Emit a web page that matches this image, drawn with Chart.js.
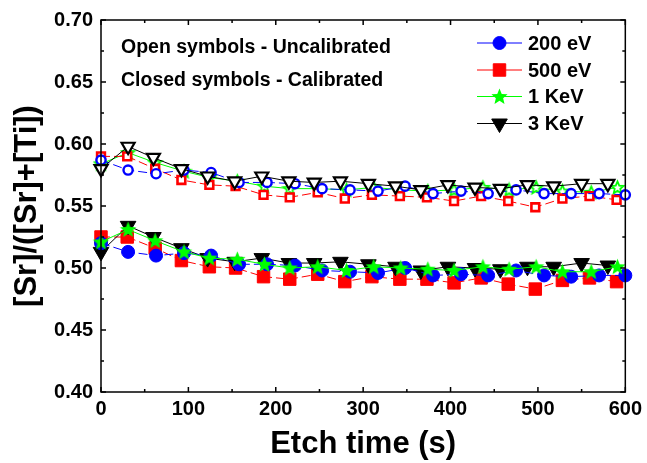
<!DOCTYPE html>
<html>
<head>
<meta charset="utf-8">
<script src="https://cdn.jsdelivr.net/npm/chart.js@4.4.0/dist/chart.umd.min.js"></script>
<style>
  body { margin: 0; background: #fff; }
</style>
</head>
<body>
<canvas id="chart" width="647" height="463"></canvas>
<script>
const seriesNames = ["200 eV", "500 eV", "1 KeV", "3 KeV"];
const seriesColors = ["#0000ff", "#ff0000", "#00ff00", "#000000"];

// etch times (s) for each energy
const time200 = [0, 31, 63, 95, 126, 158, 190, 222, 253, 285, 317, 348, 380, 412, 443, 475, 507, 538, 570, 600];
const time500 = [0, 30, 62, 92, 124, 154, 186, 216, 248, 279, 310, 342, 373, 404, 435, 466, 497, 528, 559, 590];
const time1k = [0, 31, 62, 95, 124, 156, 187, 216, 248, 281, 312, 343, 374, 404, 437, 467, 498, 528, 561, 591];
const time3k = [0, 31, 60, 92, 122, 153, 184, 215, 244, 274, 306, 337, 366, 397, 428, 457, 488, 518, 550, 580];

// open symbols - uncalibrated
const raw200 = [0.587, 0.579, 0.576, 0.579, 0.577, 0.569, 0.569, 0.568, 0.564, 0.563, 0.562, 0.566, 0.560, 0.562, 0.560, 0.563, 0.560, 0.560, 0.560, 0.559];
const raw500 = [0.590, 0.590, 0.580, 0.571, 0.567, 0.566, 0.559, 0.557, 0.561, 0.556, 0.559, 0.558, 0.557, 0.554, 0.558, 0.554, 0.549, 0.556, 0.558, 0.555];
const raw1k = [0.584, 0.593, 0.585, 0.578, 0.573, 0.570, 0.566, 0.564, 0.564, 0.563, 0.565, 0.563, 0.562, 0.563, 0.565, 0.563, 0.565, 0.562, 0.561, 0.565];
const raw3k = [0.580, 0.598, 0.589, 0.580, 0.574, 0.570, 0.574, 0.570, 0.569, 0.570, 0.568, 0.566, 0.563, 0.567, 0.565, 0.564, 0.567, 0.566, 0.568, 0.568];

// closed symbols - calibrated
const cal200 = [0.520, 0.513, 0.510, 0.512, 0.510, 0.503, 0.503, 0.502, 0.498, 0.497, 0.496, 0.500, 0.494, 0.495, 0.494, 0.498, 0.494, 0.493, 0.494, 0.494];
const cal500 = [0.525, 0.525, 0.516, 0.506, 0.501, 0.500, 0.493, 0.491, 0.495, 0.489, 0.493, 0.491, 0.491, 0.488, 0.492, 0.487, 0.483, 0.490, 0.492, 0.489];
const cal1k = [0.521, 0.531, 0.522, 0.513, 0.508, 0.507, 0.503, 0.500, 0.501, 0.498, 0.501, 0.500, 0.499, 0.498, 0.501, 0.499, 0.501, 0.497, 0.497, 0.501];
const cal3k = [0.513, 0.534, 0.525, 0.516, 0.508, 0.505, 0.508, 0.504, 0.504, 0.505, 0.503, 0.501, 0.498, 0.501, 0.500, 0.499, 0.501, 0.501, 0.504, 0.502];

const xTicks = [0, 100, 200, 300, 400, 500, 600];
const yTicks = [0.40, 0.45, 0.50, 0.55, 0.60, 0.65, 0.70];
const noteLines = ["Open symbols - Uncalibrated", "Closed symbols - Calibrated"];

const FONT = "'Liberation Sans', Arial, sans-serif";

function makeStar(fill, stroke, outer, lw) {
    const size = Math.ceil(outer * 2 + lw + 2);
    const c = document.createElement("canvas");
    c.width = size;
    c.height = size;
    const g = c.getContext("2d");
    const cx = size / 2, cy = size / 2 + 0.5, inner = outer * 0.45;
    g.beginPath();
    for (let i = 0; i < 10; i++) {
        const r = i % 2 ? inner : outer;
        const a = -Math.PI / 2 + i * Math.PI / 5;
        g.lineTo(cx + r * Math.cos(a), cy + r * Math.sin(a));
    }
    g.closePath();
    g.fillStyle = fill;
    g.fill();
    if (lw) {
        g.lineWidth = lw;
        g.strokeStyle = stroke;
        g.stroke();
    }
    return c;
}

const starClosed = makeStar("#00ff00", "#00ff00", 8.5, 0);
const starOpen = makeStar("#ffffff", "#00ff00", 6.5, 1.8);

const pts = (xs, ys) => xs.map((x, i) => ({ x: x, y: ys[i] }));

// marker settings per series: [open, closed]
const markers = [
    { open: { pointStyle: "circle", radius: 4.6, rotation: 0, borderWidth: 2.4 }, closed: { pointStyle: "circle", radius: 6.5, rotation: 0, borderWidth: 1 } },
    { open: { pointStyle: "rect", radius: 5.5, rotation: 0, borderWidth: 2.6 }, closed: { pointStyle: "rect", radius: 8.8, rotation: 0, borderWidth: 1 } },
    { open: { pointStyle: starOpen, radius: 7, rotation: 0, borderWidth: 0 }, closed: { pointStyle: starClosed, radius: 8, rotation: 0, borderWidth: 0 } },
    { open: { pointStyle: "triangle", radius: 7.5, rotation: 180, borderWidth: 2.2 }, closed: { pointStyle: "triangle", radius: 9, rotation: 180, borderWidth: 1 } }
];
const dashes = [[9, 4], [9, 4], [], []];
// lower order = drawn on top
const openOrder = [6, 7, 9, 5];
const closedOrder = [2, 4, 1, 3];

const timeSets = [time200, time500, time1k, time3k];
const rawSets = [raw200, raw500, raw1k, raw3k];
const calSets = [cal200, cal500, cal1k, cal3k];

function makeDataset(i, values, open) {
    const m = open ? markers[i].open : markers[i].closed;
    return {
        label: seriesNames[i] + (open ? " (uncalibrated)" : ""),
        data: pts(timeSets[i], values),
        borderColor: seriesColors[i],
        borderWidth: 1,
        borderDash: dashes[i],
        showLine: true,
        fill: false,
        pointStyle: m.pointStyle,
        pointRadius: m.radius,
        pointRotation: m.rotation,
        pointBorderWidth: m.borderWidth,
        pointBorderColor: seriesColors[i],
        pointBackgroundColor: open ? "#ffffff" : seriesColors[i],
        pointHoverRadius: m.radius,
        clip: false,
        order: open ? openOrder[i] : closedOrder[i]
    };
}

const datasets = [];
for (let i = 0; i < 4; i++) datasets.push(makeDataset(i, rawSets[i], true));
for (let i = 0; i < 4; i++) datasets.push(makeDataset(i, calSets[i], false));

// frame with inward ticks on all four sides
const frameTicks = {
    id: "frameTicks",
    afterDraw(chart) {
        const { ctx, chartArea: a, scales } = chart;
        const xs = scales.x, ys = scales.y;
        ctx.save();
        ctx.strokeStyle = "#000";
        ctx.lineWidth = 1.5;
        ctx.strokeRect(a.left, a.top, a.right - a.left, a.bottom - a.top);
        ctx.beginPath();
        for (let v = 0; v <= 600; v += 50) {
            const px = xs.getPixelForValue(v);
            const len = v % 100 === 0 ? 5 : 3;
            ctx.moveTo(px, a.bottom); ctx.lineTo(px, a.bottom - len);
            ctx.moveTo(px, a.top); ctx.lineTo(px, a.top + len);
        }
        for (let k = 0; k <= 12; k++) {
            const v = 0.40 + k * 0.025;
            const py = ys.getPixelForValue(v);
            const len = k % 2 === 0 ? 5 : 3;
            ctx.moveTo(a.left, py); ctx.lineTo(a.left + len, py);
            ctx.moveTo(a.right, py); ctx.lineTo(a.right - len, py);
        }
        ctx.stroke();
        ctx.restore();
    }
};

// notes and legend with line + marker
const notesLegend = {
    id: "notesLegend",
    afterDraw(chart) {
        const ctx = chart.ctx;
        ctx.save();
        ctx.fillStyle = "#000";
        ctx.textBaseline = "alphabetic";
        ctx.textAlign = "left";
        ctx.font = "bold 19.5px " + FONT;
        ctx.fillText(noteLines[0], 121, 53);
        ctx.fillText(noteLines[1], 121, 86);

        const rowY = [43, 70, 96.5, 123.5];
        for (let i = 0; i < 4; i++) {
            const y = rowY[i];
            ctx.strokeStyle = seriesColors[i];
            ctx.lineWidth = 1;
            ctx.setLineDash([]);
            ctx.beginPath();
            ctx.moveTo(477, y);
            ctx.lineTo(522, y);
            ctx.stroke();
            const m = markers[i].closed;
            ctx.fillStyle = seriesColors[i];
            ctx.strokeStyle = seriesColors[i];
            ctx.lineWidth = m.borderWidth;
            Chart.helpers.drawPoint(ctx, m, 499.5, y);
            ctx.fillStyle = "#000";
            ctx.font = "bold 20px " + FONT;
            ctx.textBaseline = "middle";
            ctx.fillText(seriesNames[i], 528, y + 1);
        }
        ctx.restore();
    }
};

new Chart(document.getElementById("chart"), {
    type: "scatter",
    data: { datasets: datasets },
    options: {
        responsive: false,
        animation: false,
        layout: { padding: { top: 15, right: 20, left: 0, bottom: 0 } },
        plugins: {
            legend: { display: false },
            tooltip: { enabled: false }
        },
        scales: {
            x: {
                type: "linear",
                min: 0,
                max: 600,
                afterBuildTicks: s => { s.ticks = xTicks.map(v => ({ value: v })); },
                afterFit: s => { s.height = 71; },
                grid: { display: false, drawTicks: false },
                border: { display: false },
                ticks: {
                    padding: 5,
                    color: "#000",
                    font: { family: FONT, size: 20, weight: "bold" },
                    maxRotation: 0
                },
                title: {
                    display: true,
                    text: "Etch time (s)",
                    color: "#000",
                    font: { family: FONT, size: 31, weight: "bold" },
                    padding: { top: 1, bottom: 0 }
                }
            },
            y: {
                type: "linear",
                min: 0.40,
                max: 0.70,
                afterBuildTicks: s => { s.ticks = yTicks.map(v => ({ value: v })); },
                afterFit: s => { s.width = 101; },
                grid: { display: false, drawTicks: false },
                border: { display: false },
                ticks: {
                    padding: 8,
                    color: "#000",
                    font: { family: FONT, size: 20, weight: "bold" },
                    callback: v => v.toFixed(2)
                },
                title: {
                    display: true,
                    text: "[Sr]/([Sr]+[Ti])",
                    color: "#000",
                    font: { family: FONT, size: 31, weight: "bold" },
                    padding: { top: 9, bottom: 0 }
                }
            }
        }
    },
    plugins: [frameTicks, notesLegend]
});
</script>
</body>
</html>
